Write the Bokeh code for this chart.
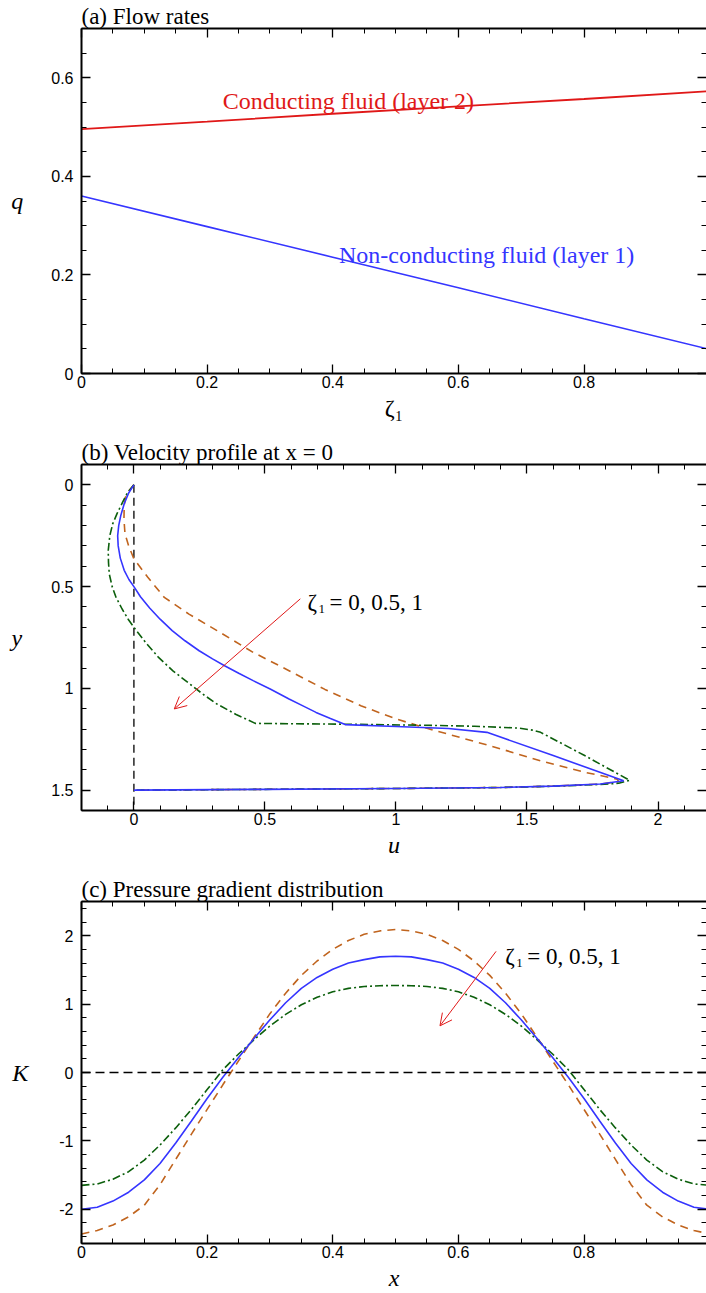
from bokeh.plotting import figure
from bokeh.models import (Range1d, LinearAxis, SingleIntervalTicker, Label, Arrow,
                          OpenHead, CustomJSTickFormatter, Span)
from bokeh.layouts import column
from bokeh.embed import file_html
from bokeh.resources import INLINE

# ---------------- data ----------------
# (a) flow rates vs zeta_1
zeta1 = [0.0, 0.2, 0.4, 0.6, 0.8, 1.0]
q_layer2 = [0.496, 0.511, 0.527, 0.542, 0.557, 0.573]
q_layer1 = [0.360, 0.298, 0.236, 0.174, 0.111, 0.049]

# (b) velocity profile at x = 0  (u, y) for zeta_1 = 0, 0.5, 1
u_z0 = [0, -0.02, -0.032, -0.037, -0.038, -0.034, -0.02, 0, 0.053, 0.116, 0.21, 0.317,
        0.455, 0.592, 0.729, 0.866, 1.0, 1.115, 1.25, 1.381, 1.552, 1.724, 1.844, 1.85,
        1.78, 1.6, 1.4, 1.0, 0.5, 0]
y_z0 = [0, 0.03, 0.06, 0.1, 0.17, 0.241, 0.3, 0.364, 0.454, 0.553, 0.635, 0.716,
        0.823, 0.913, 1.005, 1.085, 1.15, 1.195, 1.243, 1.29, 1.356, 1.413, 1.446, 1.458,
        1.47, 1.48, 1.487, 1.492, 1.496, 1.5]

u_z05 = [0, -0.02, -0.037, -0.05, -0.058, -0.062, -0.06, -0.052, -0.037, -0.019, 0,
         0.025, 0.06, 0.1, 0.146, 0.195, 0.249, 0.3, 0.346, 0.4, 0.455, 0.52, 0.592,
         0.645, 0.695, 0.75, 0.806, 1.0, 1.2, 1.347, 1.6, 1.869, 1.78, 1.6, 1.4, 1.0, 0.5, 0]
y_z05 = [0, 0.04, 0.093, 0.15, 0.2, 0.25, 0.3, 0.36, 0.42, 0.465, 0.5,
         0.55, 0.605, 0.66, 0.716, 0.766, 0.815, 0.855, 0.889, 0.926, 0.962, 1.003, 1.052,
         1.086, 1.118, 1.148, 1.178, 1.187, 1.197, 1.216, 1.33, 1.454, 1.47, 1.48, 1.487,
         1.492, 1.496, 1.5]

u_z1 = [0, -0.025, -0.043, -0.064, -0.081, -0.092, -0.098, -0.097, -0.094, -0.083,
        -0.068, -0.045, -0.022, 0, 0.045, 0.094, 0.15, 0.214, 0.265, 0.317, 0.39, 0.463,
        0.8, 1.1, 1.3, 1.467, 1.52, 1.552, 1.72, 1.892, 1.85, 1.78, 1.6, 1.4, 1.0, 0.5, 0]
y_z1 = [0, 0.04, 0.085, 0.14, 0.192, 0.25, 0.323, 0.38, 0.438, 0.5,
        0.553, 0.61, 0.66, 0.7, 0.775, 0.848, 0.915, 0.979, 1.03, 1.077, 1.128, 1.172,
        1.176, 1.181, 1.186, 1.195, 1.205, 1.216, 1.33, 1.452, 1.466, 1.472, 1.481, 1.487,
        1.492, 1.496, 1.5]

# u = 0 reference line
u_wall = [0, 0]
y_wall = [0, 1.6]

# (c) pressure gradient K(x)
x_c = [0.0, 0.025, 0.05, 0.075, 0.1, 0.125, 0.15, 0.175, 0.2, 0.225, 0.25,
       0.275, 0.3, 0.325, 0.35, 0.375, 0.4, 0.425, 0.45, 0.475, 0.5,
       0.525, 0.55, 0.575, 0.6, 0.625, 0.65, 0.675, 0.7, 0.725, 0.75,
       0.775, 0.8, 0.825, 0.85, 0.875, 0.9, 0.925, 0.95, 0.975, 1.0]
K_z0 = [-2.36, -2.31, -2.23, -2.11, -1.94, -1.64, -1.27, -0.9, -0.54, -0.18, 0.17,
        0.52, 0.86, 1.16, 1.42, 1.63, 1.8, 1.93, 2.02, 2.07, 2.09,
        2.07, 2.02, 1.93, 1.8, 1.63, 1.42, 1.16, 0.86, 0.52, 0.17,
        -0.18, -0.54, -0.9, -1.27, -1.64, -1.94, -2.11, -2.23, -2.31, -2.36]
K_z05 = [-2.0, -1.97, -1.88, -1.75, -1.57, -1.33, -1.03, -0.71, -0.38, -0.07, 0.22,
         0.5, 0.77, 1.02, 1.23, 1.39, 1.51, 1.6, 1.65, 1.69, 1.70,
         1.69, 1.65, 1.6, 1.51, 1.39, 1.23, 1.02, 0.77, 0.5, 0.22,
         -0.07, -0.38, -0.71, -1.03, -1.33, -1.57, -1.75, -1.88, -1.97, -2.0]
K_z1 = [-1.65, -1.63, -1.56, -1.45, -1.28, -1.06, -0.81, -0.54, -0.25, 0.04, 0.27,
        0.48, 0.68, 0.85, 0.99, 1.1, 1.18, 1.23, 1.257, 1.269, 1.272,
        1.269, 1.257, 1.23, 1.18, 1.1, 0.99, 0.85, 0.68, 0.48, 0.27,
        0.04, -0.25, -0.54, -0.81, -1.06, -1.28, -1.45, -1.56, -1.63, -1.65]

# ---------------- styling ----------------
SANS = "Liberation Sans"
SERIF = "Liberation Serif"
BLUE = "#3535ff"
RED = "#e01818"
BROWN = "#c0641e"
GREEN = "#0c5f0c"
TXT = "24px"
TICK = "16px"


def make_fig(height, xr, yr, top, bottom, xint, xminor, yint, yminor,
             title, xlabel, ylabel, ylab_standoff, xlab_standoff):
    p = figure(width=706, height=height, x_range=xr, y_range=yr,
               output_backend="svg", toolbar_location=None,
               x_axis_location=None, y_axis_location=None,
               min_border_left=81, min_border_right=0,
               min_border_top=top, min_border_bottom=bottom)
    p.outline_line_color = None
    p.xgrid.grid_line_color = None
    p.ygrid.grid_line_color = None
    p.title.text = title
    p.title.text_font = SERIF
    p.title.text_font_size = "23px"
    p.title.text_font_style = "normal"
    p.title.text_color = "black"
    p.title.align = "left"
    p.title.standoff = 0
    fmt = CustomJSTickFormatter(code="return String(Math.round(tick*1000)/1000);")
    blank = CustomJSTickFormatter(code="return '';")
    for loc, iv, nm in (("below", xint, xminor), ("above", xint, xminor),
                        ("left", yint, yminor), ("right", yint, yminor)):
        shown = loc in ("below", "left")
        ax = LinearAxis(ticker=SingleIntervalTicker(interval=iv, num_minor_ticks=nm),
                        formatter=fmt if shown else blank)
        ax.axis_line_width = 2
        ax.axis_line_color = "black" if loc != "right" else None
        ax.major_tick_in = 9
        ax.major_tick_out = 0
        ax.minor_tick_in = 5
        ax.minor_tick_out = 0
        ax.major_tick_line_width = 1.3
        ax.minor_tick_line_width = 1
        ax.major_tick_line_color = "black"
        ax.minor_tick_line_color = "black"
        ax.major_label_text_font = SANS
        ax.major_label_text_font_size = TICK
        ax.major_label_text_color = "black"
        ax.axis_label_text_color = "black"
        if loc == "below":
            ax.major_label_standoff = 2
            ax.axis_label = xlabel
            ax.axis_label_text_font = SERIF
            ax.axis_label_text_font_size = TXT
            ax.axis_label_text_font_style = "normal" if xlabel.startswith("ζ") else "italic"
            ax.axis_label_standoff = xlab_standoff
        elif loc == "left":
            ax.major_label_standoff = 8
            ax.axis_label = ylabel
            ax.axis_label_text_font = SERIF
            ax.axis_label_text_font_size = TXT
            ax.axis_label_text_font_style = "italic"
            ax.axis_label_orientation = "horizontal"
            ax.axis_label_standoff = ylab_standoff
        else:
            ax.major_label_standoff = 0
        p.add_layout(ax, loc)
    return p


def lab(p, x, y, text, size=TXT, italic=False, color="black", align="left",
        baseline="alphabetic", xo=0, yo=0, font=SERIF):
    p.add_layout(Label(x=x, y=y, text=text, text_font=font, text_font_size=size,
                       text_font_style="italic" if italic else "normal",
                       text_color=color, text_align=align, text_baseline=baseline,
                       x_offset=xo, y_offset=yo))


def zeta_note(p, x, y):
    lab(p, x, y, "ζ", size="23px")
    lab(p, x, y, "1", size="13px", xo=11, yo=-6)
    lab(p, x, y, "= 0, 0.5, 1", size="23px", xo=22)


# ---------------- (a) ----------------
pa = make_fig(430, Range1d(0, 0.995), Range1d(0, 0.7), 28, 57, 0.2, 4, 0.2, 4,
              "(a) Flow rates", "ζ₁", "q", 25, 4)
pa.line(zeta1, q_layer2, line_color=RED, line_width=1.8)
pa.line(zeta1, q_layer1, line_color=BLUE, line_width=1.6)
lab(pa, 0.225, 0.553, "Conducting fluid (layer 2)", color=RED)
lab(pa, 0.41, 0.241, "Non-conducting fluid (layer 1)", color=BLUE)

# ---------------- (b) ----------------
pb = make_fig(430, Range1d(-0.2, 2.185), Range1d(1.6, -0.1), 34, 50, 0.5, 5, 0.5, 5,
              "(b) Velocity profile at x = 0", "u", "y", 26, 4)
pb.line(u_wall, y_wall, line_color="black", line_width=1.3, line_dash="8 5")
pb.line(u_z0, y_z0, line_color=BROWN, line_width=1.6, line_dash="8 6")
pb.line(u_z1, y_z1, line_color=GREEN, line_width=1.6, line_dash="8 3 2 3")
pb.line(u_z05, y_z05, line_color=BLUE, line_width=1.6)
zeta_note(pb, 0.6623, 0.5787)
pb.add_layout(Arrow(end=OpenHead(size=12, line_color=RED, line_width=1),
                    x_start=0.635, y_start=0.56, x_end=0.154, y_end=1.101,
                    line_color=RED, line_width=1))

# ---------------- (c) ----------------
pc = make_fig(433, Range1d(0, 0.995), Range1d(-2.5, 2.5), 41, 47, 0.2, 4, 1, 5,
              "(c) Pressure gradient distribution", "x", "K", 28, 4)
pc.add_layout(Span(location=0, dimension="width", line_color="black",
                   line_width=1.3, line_dash="9 5"))
pc.line(x_c, K_z0, line_color=BROWN, line_width=1.6, line_dash="8 6")
pc.line(x_c, K_z1, line_color=GREEN, line_width=1.6, line_dash="8 3 2 3")
pc.line(x_c, K_z05, line_color=BLUE, line_width=1.6)
zeta_note(pc, 0.6746, 1.694)
pc.add_layout(Arrow(end=OpenHead(size=12, line_color=RED, line_width=1),
                    x_start=0.660, y_start=1.771, x_end=0.5707, y_end=0.682,
                    line_color=RED, line_width=1))

p = column(pa, pb, pc, spacing=0)
open("out.html", "w").write(file_html(p, INLINE))
